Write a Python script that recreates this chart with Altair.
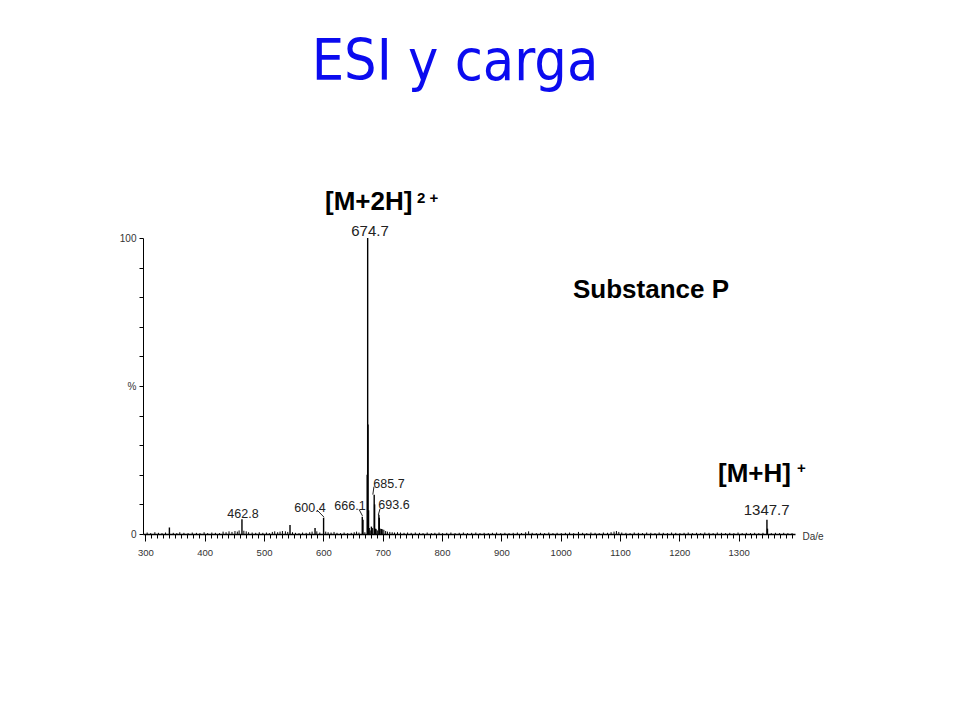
import altair as alt
import pandas as pd

# ---------------- data ----------------
peak_mz = [340.5, 462.8, 543.8, 586.0, 600.4, 665.6, 666.8, 673.9, 674.7, 675.3,
           676.2, 677.2, 681.0, 685.7, 686.4, 688.0, 693.6, 694.3, 1347.7, 1348.6]
peak_int = [2.2, 5.0, 3.0, 2.0, 5.5, 5.8, 4.8, 20.0, 100.0, 37.0,
            8.0, 2.0, 2.5, 13.3, 10.0, 1.8, 6.5, 5.5, 4.8, 1.8]

noise_mz = [303, 309, 316, 322, 328, 334, 347, 353, 358, 365, 372, 379, 386, 392, 399,
            405, 412, 418, 425, 431, 436, 441, 446, 451, 455, 458, 466, 470, 474, 480,
            486, 492, 498, 504, 509, 514, 518, 523, 527, 531, 536, 540, 548, 553, 559,
            565, 571, 577, 581, 589, 594, 604, 608, 613, 618, 623, 629, 635, 641, 647,
            652, 656, 660, 670, 679, 683, 689, 691, 696, 698, 700, 702, 705, 708, 712,
            716, 720, 725, 730, 736, 742, 748, 755, 762, 768, 775, 782, 788, 795, 801,
            808, 815, 822, 829, 836, 843, 850, 857, 864, 871, 878, 885, 892, 899, 906,
            913, 920, 927, 934, 941, 946, 952, 959, 966, 973, 980, 987, 994, 1001, 1008,
            1015, 1022, 1030, 1037, 1044, 1051, 1058, 1065, 1072, 1079, 1085, 1090, 1094, 1098, 1103,
            1110, 1117, 1124, 1131, 1138, 1145, 1152, 1159, 1166, 1173, 1180, 1187, 1194, 1201, 1208,
            1215, 1222, 1229, 1236, 1243, 1250, 1257, 1264, 1271, 1278, 1285, 1292, 1299, 1306, 1313,
            1320, 1327, 1334, 1341, 1355, 1362, 1369, 1376, 1383, 1390]
noise_int = [0.5, 0.3, 0.6, 0.4, 0.3, 0.5, 0.4, 0.3, 0.6, 0.4, 0.3, 0.5, 0.4, 0.3, 0.6,
             0.3, 0.5, 0.4, 0.3, 0.8, 0.6, 0.9, 0.7, 1.0, 0.8, 1.2, 1.1, 0.9, 0.6, 0.5,
             0.4, 0.6, 0.4, 0.5, 0.3, 0.7, 0.9, 0.6, 0.8, 1.0, 0.9, 0.7, 0.6, 0.4, 0.3,
             0.5, 0.4, 0.6, 0.8, 0.9, 0.5, 0.8, 0.6, 0.5, 0.7, 0.4, 0.3, 0.5, 0.3, 0.4,
             0.6, 0.8, 0.5, 0.6, 1.2, 2.0, 1.6, 1.2, 1.8, 1.7, 1.6, 1.4, 1.0, 0.8, 0.7,
             0.6, 0.5, 0.6, 0.5, 0.4, 0.5, 0.4, 0.5, 0.4, 0.3, 0.5, 0.3, 0.4, 0.5, 0.3,
             0.4, 0.5, 0.3, 0.4, 0.5, 0.3, 0.4, 0.5, 0.3, 0.4, 0.3, 0.4, 0.5, 0.3, 0.4,
             0.3, 0.4, 0.5, 0.3, 0.6, 0.9, 0.4, 0.3, 0.4, 0.3, 0.5, 0.3, 0.4, 0.3, 0.4,
             0.5, 0.3, 0.7, 0.4, 0.3, 0.5, 0.4, 0.3, 0.5, 0.4, 0.6, 0.8, 1.0, 0.7, 0.5,
             0.4, 0.3, 0.5, 0.4, 0.3, 0.5, 0.4, 0.3, 0.5, 0.4, 0.3, 0.5, 0.4, 0.3, 0.4,
             0.5, 0.3, 0.4, 0.3, 0.5, 0.4, 0.3, 0.5, 0.4, 0.3, 0.4, 0.3, 0.5, 0.3, 0.4,
             0.3, 0.4, 0.3, 0.4, 0.3, 0.4, 0.3, 0.4, 0.3, 0.3]

# peak labels (text, m/z position, % position)
label_text = ["462.8", "600.4", "666.1", "685.7", "693.6"]
label_mz = [464.5, 577.5, 644.9, 710.6, 719.0]
label_pct = [5.4, 7.4, 8.1, 15.5, 8.4]

big_label_text = ["674.7", "1347.7"]
big_label_mz = [678.6, 1347.2]
big_label_pct = [100.7, 6.4]

# leader lines from labels to peaks
lead_mz1 = [589.3, 660.2, 685.3, 695.5]
lead_pct1 = [8.1, 8.3, 16.0, 8.5]
lead_mz2 = [601.1, 666.0, 683.4, 692.6]
lead_pct2 = [5.7, 6.1, 13.3, 6.4]

# ion annotations
ann_text = ["[M+2H]", "Substance P", "[M+H]"]
ann_mz = [602.8, 1020.8, 1265.2]
ann_pct = [109.5, 79.7, 17.6]
sup_text = ["2 +", "+"]
sup_mz = [757.8, 1398.3]
sup_pct = [111.8, 20.6]

x_ticks = list(range(300, 1400, 10))
y_ticks = list(range(0, 101, 10))

# ---------------- chart ----------------
FONT = "Liberation Sans"

x_axis = alt.Axis(
    values=x_ticks, format="d",
    labelExpr="datum.value % 100 === 0 ? datum.label : ''",
    tickSize={"condition": {"test": "datum.value % 100 === 0", "value": 7}, "value": 4},
    labelOverlap=False, labelFlush=False, grid=False,
    domainColor="black", tickColor="black", domainWidth=1.3, tickWidth=1,
    labelFont=FONT, labelFontSize=9.5, labelColor="#333", labelPadding=6,
    title="Da/e", titleFont=FONT, titleFontSize=10, titleFontWeight="normal",
    titleColor="#333", titleAnchor="end", titleAlign="left", titleBaseline="middle",
    titleX=659, titleY=2, titleAngle=0,
)
y_axis = alt.Axis(
    values=y_ticks,
    labelExpr="datum.value === 100 ? '100' : (datum.value === 50 ? '%' : (datum.value === 0 ? '0' : ''))",
    tickSize=4, labelOverlap=False, grid=False, title=None,
    domainColor="black", tickColor="black", domainWidth=1, tickWidth=1,
    labelFont=FONT, labelFontSize=10, labelColor="#333", labelPadding=3,
)

X = alt.X("mz:Q", scale=alt.Scale(domain=[296, 1395], nice=False, zero=False), axis=x_axis)
Y = alt.Y("pct:Q", scale=alt.Scale(domain=[0, 100], nice=False), axis=y_axis)

noise_df = pd.DataFrame({"mz": noise_mz, "pct": noise_int})
peak_df = pd.DataFrame({"mz": peak_mz, "pct": peak_int})
label_df = pd.DataFrame({"mz": label_mz, "pct": label_pct, "t": label_text})
big_df = pd.DataFrame({"mz": big_label_mz, "pct": big_label_pct, "t": big_label_text})
lead_df = pd.DataFrame({"mz": lead_mz1, "pct": lead_pct1, "mz2": lead_mz2, "pct2": lead_pct2})
ann_df = pd.DataFrame({"mz": ann_mz, "pct": ann_pct, "t": ann_text})
sup_df = pd.DataFrame({"mz": sup_mz, "pct": sup_pct, "t": sup_text})

noise = alt.Chart(noise_df).mark_rule(color="black", strokeWidth=1).encode(
    x=X, y=Y, y2=alt.datum(0))
peaks = alt.Chart(peak_df).mark_rule(color="black", strokeWidth=1.4).encode(
    x=X, y=Y, y2=alt.datum(0))
leads = alt.Chart(lead_df).mark_rule(color="#222", strokeWidth=1).encode(
    x=X, y=Y, x2="mz2:Q", y2="pct2:Q")
labels = alt.Chart(label_df).mark_text(
    font=FONT, fontSize=12.5, color="#222", align="center", baseline="alphabetic"
).encode(x=X, y=Y, text="t:N")
big_labels = alt.Chart(big_df).mark_text(
    font=FONT, fontSize=15, color="#222", align="center", baseline="alphabetic"
).encode(x=X, y=Y, text="t:N")
anns = alt.Chart(ann_df).mark_text(
    font=FONT, fontSize=26, fontWeight="bold", color="black", align="left", baseline="alphabetic"
).encode(x=X, y=Y, text="t:N")
sups = alt.Chart(sup_df).mark_text(
    font=FONT, fontSize=15, fontWeight="bold", color="black", align="left", baseline="alphabetic"
).encode(x=X, y=Y, text="t:N")

chart = alt.layer(noise, peaks, leads, labels, big_labels, anns, sups).properties(
    width=652, height=296,
    autosize=alt.AutoSizeParams(type="none"),
    padding={"left": 135, "top": 230, "right": 150, "bottom": 170},
    title=alt.TitleParams(
        "ESI y carga", font="DejaVu Sans Condensed", fontSize=57, fontWeight="normal",
        color="#0b0bef", anchor="middle", dx=-14, offset=52, baseline="alphabetic",
        frame="group",
    ),
).configure_view(stroke=None)

chart.save("out.html", embed_options={"renderer": "svg", "actions": False})
